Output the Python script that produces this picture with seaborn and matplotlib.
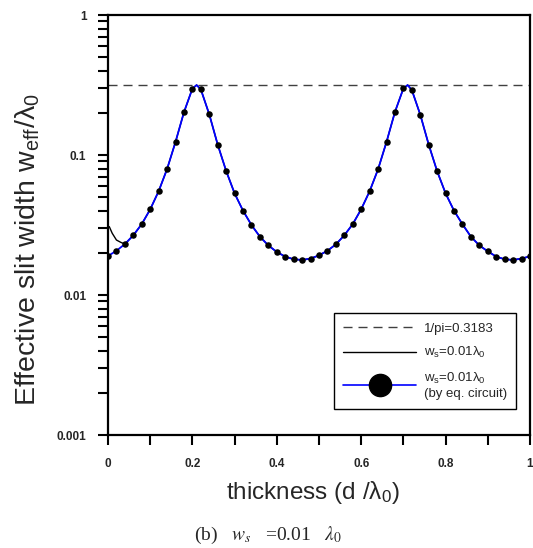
import numpy as np
import pandas as pd
import matplotlib
matplotlib.use("Agg")
import matplotlib.pyplot as plt
from matplotlib.lines import Line2D
from matplotlib.ticker import MultipleLocator, LogLocator, FixedLocator, FixedFormatter, NullFormatter
import seaborn as sns

# ---------------- data ----------------
# thickness positions of the equivalent-circuit markers (d / lambda0)
d_pts = [0.00, 0.02, 0.04, 0.06, 0.08, 0.10, 0.12, 0.14, 0.16, 0.18,
         0.20, 0.22, 0.24, 0.26, 0.28, 0.30, 0.32, 0.34, 0.36, 0.38,
         0.40, 0.42, 0.44, 0.46, 0.48, 0.50, 0.52, 0.54, 0.56, 0.58,
         0.60, 0.62, 0.64, 0.66, 0.68, 0.70, 0.72, 0.74, 0.76, 0.78,
         0.80, 0.82, 0.84, 0.86, 0.88, 0.90, 0.92, 0.94, 0.96, 0.98, 1.00]
w_eq = [0.0190, 0.0207, 0.0231, 0.0267, 0.0321, 0.0409, 0.0551, 0.0794, 0.124, 0.202,
        0.298, 0.294, 0.195, 0.1185, 0.0769, 0.0532, 0.0400, 0.0316, 0.0261, 0.0226,
        0.0203, 0.0188, 0.0180, 0.0178, 0.0182, 0.0192, 0.0207, 0.0230, 0.0267, 0.0321,
        0.0410, 0.0551, 0.0791, 0.124, 0.203, 0.299, 0.291, 0.194, 0.1185, 0.0765,
        0.0532, 0.0400, 0.0320, 0.0261, 0.0226, 0.0205, 0.0188, 0.0180, 0.0178, 0.0182, 0.0189]

# peak values of the curves (between markers)
d_peak = [0.21, 0.71]
w_peak = [0.316, 0.316]

# full-wave solution differs only near d = 0
d_start = [0.003, 0.01, 0.02, 0.03]
w_start = [0.0308, 0.0276, 0.0247, 0.0238]

inv_pi = 0.3183

legend_labels = ["1/pi=0.3183",
                 r"w$_\mathregular{s}$=0.01λ$_\mathregular{0}$",
                 "w$_\\mathregular{s}$=0.01λ$_\\mathregular{0}$\n(by eq. circuit)"]

y_ticks = [0.001, 0.01, 0.1, 1]
y_ticklabels = ["0.001", "0.01", "0.1", "1"]
x_ticks = [0, 0.2, 0.4, 0.6, 0.8, 1.0]
x_ticklabels = ["0", "0.2", "0.4", "0.6", "0.8", "1"]

# ---------------- tables ----------------
df_eq = pd.DataFrame({"d": d_pts, "w": w_eq})
df_line = pd.concat([df_eq, pd.DataFrame({"d": d_peak, "w": w_peak})]).sort_values("d")
df_full = pd.concat([pd.DataFrame({"d": d_start, "w": w_start}),
                     df_line[df_line["d"] >= 0.04]]).sort_values("d")

# ---------------- style ----------------
sns.set_style("ticks")
plt.rcParams["font.family"] = ["Liberation Sans", "DejaVu Sans"]
plt.rcParams["mathtext.fontset"] = "custom"
plt.rcParams["mathtext.rm"] = "Liberation Sans"
plt.rcParams["mathtext.it"] = "Liberation Sans:italic"

fig = plt.figure(figsize=(5.33, 5.48), dpi=100)
ax = fig.add_axes([108 / 533, 1 - 435 / 548, 422 / 533, 420 / 548])

dash = (0, (6.5, 4.3))
ax.axhline(inv_pi, color="#404040", lw=1.0, ls=dash, zorder=1)
sns.lineplot(data=df_full, x="d", y="w", ax=ax, color="black", lw=1.0,
             sort=False, estimator=None, zorder=2)
sns.lineplot(data=df_line, x="d", y="w", ax=ax, color="#0000ff", lw=1.3,
             sort=False, estimator=None, zorder=3)
sns.scatterplot(data=df_eq, x="d", y="w", ax=ax, color="black", s=22,
                edgecolor="black", linewidth=0, zorder=4)

ax.set_yscale("log")
ax.set_xlim(0, 1)
ax.set_ylim(0.001, 1)

ax.xaxis.set_major_locator(FixedLocator(x_ticks))
ax.xaxis.set_major_formatter(FixedFormatter(x_ticklabels))
ax.xaxis.set_minor_locator(MultipleLocator(0.1))
ax.yaxis.set_major_locator(FixedLocator(y_ticks))
ax.yaxis.set_major_formatter(FixedFormatter(y_ticklabels))
ax.yaxis.set_minor_locator(LogLocator(base=10, subs=np.arange(2, 10)))
ax.yaxis.set_minor_formatter(NullFormatter())

for sp in ax.spines.values():
    sp.set_linewidth(1.6)
    sp.set_color("black")
    sp.set_visible(True)

ax.tick_params(which="both", direction="out", length=7.5, width=1.5,
               top=False, right=False, color="black")
ax.tick_params(axis="x", which="major", pad=9, labelsize=8.5)
ax.tick_params(axis="y", which="major", pad=8, labelsize=8.5)
for lab in ax.get_xticklabels() + ax.get_yticklabels():
    lab.set_fontweight("bold")

ax.set_xlabel("")
ax.set_ylabel("")
fig.text(313 / 533, 1 - 492 / 548, "thickness (d /λ$_\\mathregular{0}$)",
         ha="center", va="center", fontsize=17.5)
fig.text(28 / 533, 1 - 250 / 548,
         "Effective slit width w$_\\mathregular{eff}$/λ$_\\mathregular{0}$",
         ha="center", va="center", rotation=90, fontsize=20.5)
fig.text(268 / 533, 1 - 535 / 548, r"(b)   $w_s$   =0.01   $\lambda_0$",
         ha="center", va="center", fontsize=14, family="Liberation Serif",
         math_fontfamily="stix")

handles = [Line2D([], [], color="#404040", lw=1.0, ls=dash),
           Line2D([], [], color="black", lw=1.0),
           Line2D([], [], color="#0000ff", lw=1.2, marker="o", markersize=16,
                  markerfacecolor="black", markeredgecolor="black")]
leg = ax.legend(handles, legend_labels, loc="upper left",
                bbox_to_anchor=(0.5355, 0.29), borderaxespad=0, fontsize=9.5,
                handlelength=5.5, frameon=True, fancybox=False, framealpha=1,
                edgecolor="black", borderpad=0.7, labelspacing=0.8,
                handletextpad=0.6)
leg.get_frame().set_linewidth(1.0)

fig.savefig("out.png", dpi=100)
